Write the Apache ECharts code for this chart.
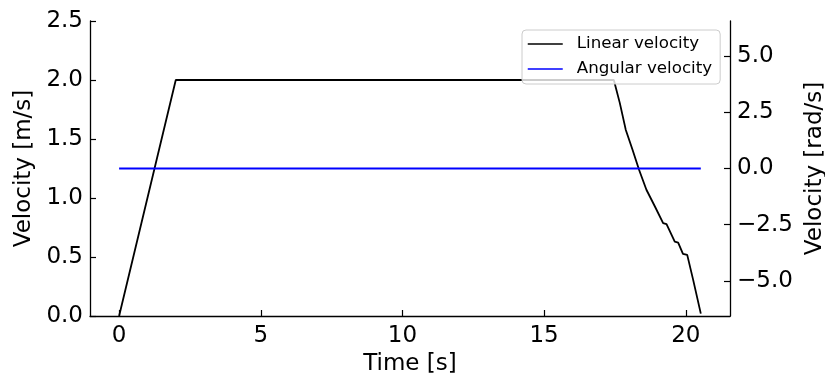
<!DOCTYPE html>
<html>
<head>
<meta charset="utf-8">
<script src="https://cdn.jsdelivr.net/npm/echarts@6/dist/echarts.min.js"></script>
<style>html,body{margin:0;padding:0;background:#fff}#c{width:825px;height:378px}</style>
</head>
<body>
<div id="c"></div>
<script>
// Linear velocity profile [s], [m/s]
const linTime = [0, 2.0, 17.46, 17.67, 17.88, 18.12, 18.35, 18.61, 18.91, 19.20, 19.32, 19.61, 19.73, 19.90, 20.05, 20.26, 20.53];
const linVel  = [0, 2.0, 2.0,   1.806, 1.579, 1.409, 1.239, 1.07,  0.928, 0.787, 0.778, 0.631, 0.622, 0.526, 0.518, 0.306, 0.02];
// Angular velocity [s], [rad/s]
const angTime = [0, 20.53];
const angVel  = [0, 0];
// Tick labels
const xTicks = [0, 5, 10, 15, 20];
const yLeftTicks = [0, 0.5, 1.0, 1.5, 2.0, 2.5];
const yRightTicks = [-5, -2.5, 0, 2.5, 5];

const FONT = 'DejaVu Sans';
const zip = (a, b) => a.map((v, i) => [v, b[i]]);
const fmt = v => (v < 0 ? '\u2212' : '') + Math.abs(v).toFixed(1);

const chart = echarts.init(document.getElementById('c'), null, {renderer: 'canvas'});
chart.setOption({
  animation: false,
  backgroundColor: '#ffffff',
  textStyle: {fontFamily: FONT},
  grid: {left: 90, right: 95, top: 21, bottom: 62, containLabel: false, outerBoundsMode: 'none'},
  legend: {
    orient: 'vertical',
    left: 522, top: 30,
    padding: [4, 8, 5, 5],
    itemWidth: 35, itemHeight: 14, itemGap: 5,
    backgroundColor: 'rgba(255,255,255,0.8)',
    borderColor: '#cccccc', borderWidth: 1, borderRadius: 4,
    itemStyle: {opacity: 0},
    lineStyle: {width: 1.5},
    textStyle: {fontFamily: FONT, fontSize: 16.7, color: '#000', lineHeight: 20, padding: [0, 0, 0, 9]},
    data: ['Linear velocity', 'Angular velocity']
  },
  xAxis: {
    type: 'value', min: -1.027, max: 21.56,
    name: 'Time [s]', nameLocation: 'middle', nameGap: 30,
    nameTextStyle: {fontFamily: FONT, fontSize: 23, color: '#000'},
    axisLine: {show: true, onZero: false, lineStyle: {color: '#000', width: 1.3}},
    axisTick: {show: true, inside: true, length: 6, customValues: xTicks, lineStyle: {color: '#000', width: 1.2}},
    axisLabel: {show: true, customValues: xTicks, margin: 9, fontFamily: FONT, fontSize: 23, color: '#000', formatter: v => String(v)},
    splitLine: {show: false}
  },
  yAxis: [{
    type: 'value', position: 'left', min: 0, max: 2.5, interval: 0.5,
    name: 'Velocity [m/s]', nameLocation: 'middle', nameGap: 54, nameRotate: 90,
    nameTextStyle: {fontFamily: FONT, fontSize: 23, color: '#000'},
    axisLine: {show: true, onZero: false, lineStyle: {color: '#000', width: 1.3}},
    axisTick: {show: true, inside: true, length: 6, lineStyle: {color: '#000', width: 1.2}},
    axisLabel: {show: true, margin: 7, fontFamily: FONT, fontSize: 23, color: '#000', formatter: v => fmt(v)},
    splitLine: {show: false}
  }, {
    type: 'value', position: 'right', min: -6.57, max: 6.57,
    name: 'Velocity [rad/s]', nameLocation: 'middle', nameGap: 72, nameRotate: 90,
    nameTextStyle: {fontFamily: FONT, fontSize: 23, color: '#000'},
    axisLine: {show: true, onZero: false, lineStyle: {color: '#000', width: 1.3}},
    axisTick: {show: true, inside: true, length: 6, customValues: yRightTicks, lineStyle: {color: '#000', width: 1.2}},
    axisLabel: {show: true, customValues: yRightTicks, margin: 7, fontFamily: FONT, fontSize: 23, color: '#000', formatter: v => fmt(v)},
    splitLine: {show: false}
  }],
  series: [{
    name: 'Linear velocity', type: 'line', yAxisIndex: 0,
    data: zip(linTime, linVel), symbol: 'none', showSymbol: false,
    lineStyle: {color: '#000000', width: 1.8}, itemStyle: {color: '#000000'}
  }, {
    name: 'Angular velocity', type: 'line', yAxisIndex: 1,
    data: zip(angTime, angVel), symbol: 'none', showSymbol: false,
    lineStyle: {color: '#0000ff', width: 1.8}, itemStyle: {color: '#0000ff'}
  }]
});
</script>
</body>
</html>
